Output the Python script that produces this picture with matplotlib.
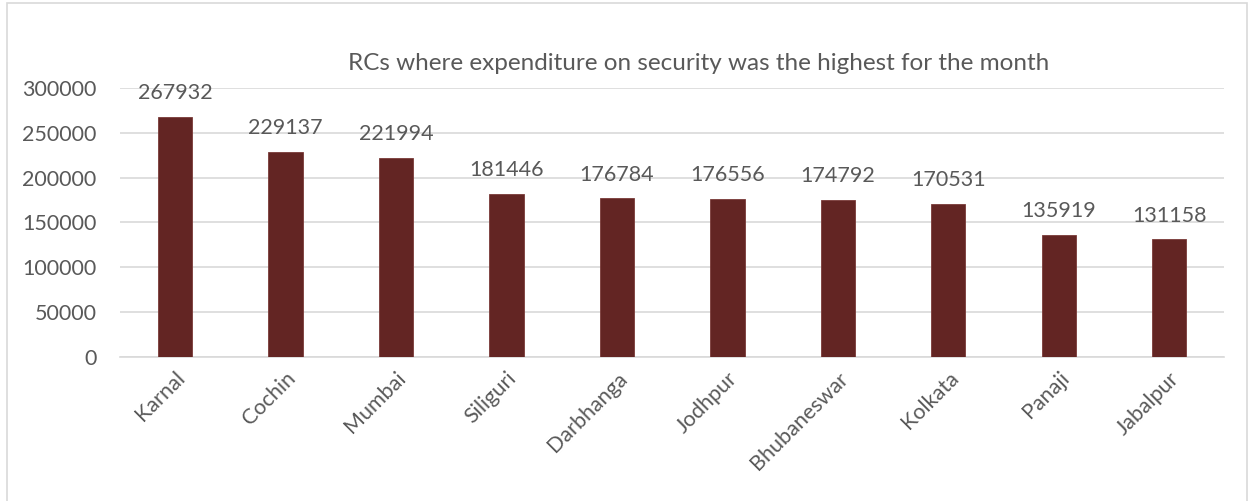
import matplotlib
matplotlib.use('Agg')
import matplotlib.pyplot as plt
from matplotlib.patches import Rectangle

plt.rcParams['font.family'] = ['Lato', 'DejaVu Sans']

# data
cities = ['Karnal', 'Cochin', 'Mumbai', 'Siliguri', 'Darbhanga', 'Jodhpur',
          'Bhubaneswar', 'Kolkata', 'Panaji', 'Jabalpur']
expenditure = [267932, 229137, 221994, 181446, 176784, 176556,
               174792, 170531, 135919, 131158]
yticks = [0, 50000, 100000, 150000, 200000, 250000, 300000]

txt = '#595959'
fig = plt.figure(figsize=(12.52, 5.01), dpi=100)
ax = fig.add_axes([0.0958, 0.2874, 0.8822, 0.537])

# chart border
fig.patches.append(Rectangle((7 / 1252, -0.01), 1240 / 1252, 1 - 3 / 501 + 0.01,
                             transform=fig.transFigure, fill=False,
                             edgecolor='#d9d9d9', linewidth=1.2))

x = range(len(cities))
bars = ax.bar(x, expenditure, width=0.31, color='#632523', edgecolor='#7a3a38',
              linewidth=0.6, zorder=3)
for xi, v in zip(x, expenditure):
    ax.annotate(str(v), (xi, v), xytext=(0, 10), textcoords='offset points',
                ha='center', va='bottom', fontsize=15.5, color=txt)

ax.set_xlim(-0.5, len(cities) - 0.5)
ax.set_ylim(0, 300000)
ax.set_yticks(yticks)
ax.set_yticklabels([str(t) for t in yticks], fontsize=15.5, color=txt)
ax.set_xticks(list(x))
ax.set_xticklabels(cities, rotation=45, ha='right', rotation_mode='anchor',
                   fontsize=15.5, color=txt)
ax.tick_params(axis='y', length=0, pad=17)
ax.tick_params(axis='x', length=0, pad=8)
ax.grid(axis='y', color='#d9d9d9', linewidth=1.2, zorder=0)
for s in ['top', 'right', 'left']:
    ax.spines[s].set_visible(False)
ax.spines['bottom'].set_color('#d9d9d9')
ax.spines['bottom'].set_linewidth(1.2)

fig.text(0.558, 1 - 63 / 501, 'RCs where expenditure on security was the highest for the month',
         ha='center', va='center', fontsize=17.5, color=txt)

fig.savefig('out.png', dpi=100)
